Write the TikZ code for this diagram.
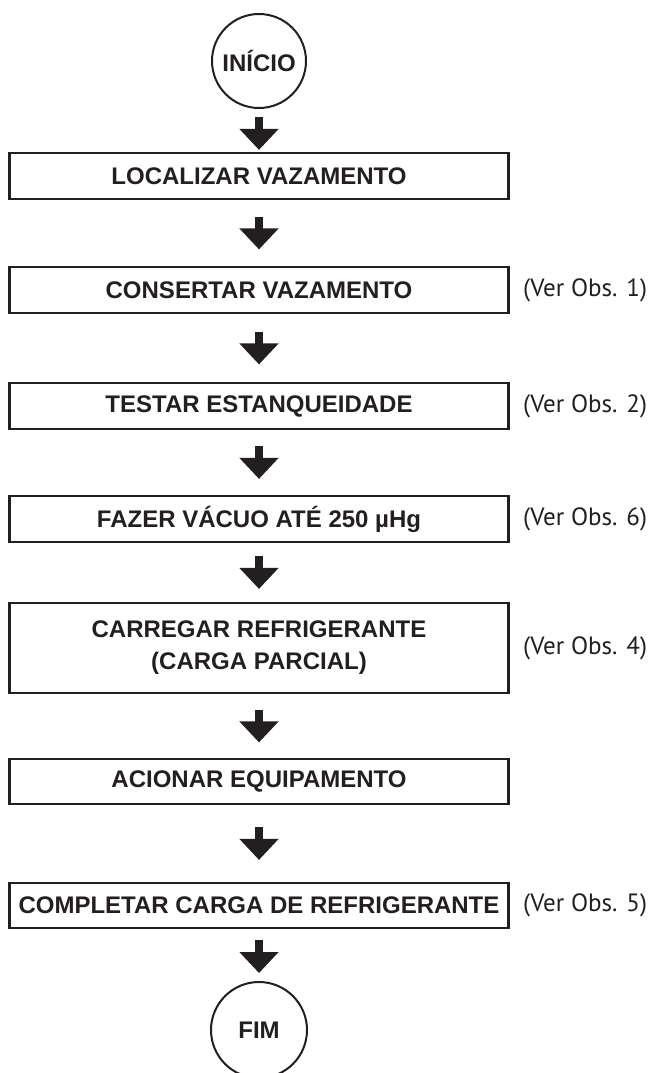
\documentclass[tikz,border=0pt]{standalone}
\usepackage{fontspec}
\setmainfont{Liberation Sans}
\newfontfamily\obsfont{PT Sans}
\usetikzlibrary{arrows.meta}
\definecolor{ink}{HTML}{231F20}
\begin{document}
\begin{tikzpicture}[x=1pt,y=-1pt,
  stepbox/.style={draw=ink, line width=2.2pt, minimum width=499pt, minimum height=46pt,
    inner sep=0pt, text=ink, align=center, font=\bfseries\fontsize{24}{32}\selectfont},
  term/.style={draw=ink, line width=2pt, circle, minimum size=94pt, inner sep=0pt,
    text=ink, font=\bfseries\fontsize{24}{28}\selectfont},
  obs/.style={anchor=west, inner sep=0pt, text=ink, font=\obsfont\fontsize{25}{28}\selectfont},
  flow/.style={draw=ink, line width=8.5pt, -{Triangle[width=38pt,length=21pt]}}
]
\useasboundingbox (0,0) rectangle (653,1073);
\clip (0,0) rectangle (653,1073);

\node[term] (ini) at (259,61) {INÍCIO};
\node[stepbox] (b1) at (259,176) {LOCALIZAR VAZAMENTO};
\node[stepbox] (b2) at (259,290) {CONSERTAR VAZAMENTO};
\node[stepbox] (b3) at (259,406) {TESTAR ESTANQUEIDADE};
\node[stepbox] (b4) at (259,519) {FAZER VÁCUO ATÉ 250 µHg};
\node[stepbox, minimum height=90pt] (b5) at (259,648) {CARREGAR REFRIGERANTE\\(CARGA PARCIAL)};
\node[stepbox, minimum height=45pt] (b6) at (259,781.5) {ACIONAR EQUIPAMENTO};
\node[stepbox, minimum height=45pt] (b7) at (259,905.5) {COMPLETAR CARGA DE REFRIGERANTE};
\node[term, minimum size=96pt] (fim) at (259,1030) {FIM};

\node[obs] (o1) at (523,290) {(Ver Obs. 1)};
\node[obs] (o2) at (523,406) {(Ver Obs. 2)};
\node[obs] (o6) at (523,519) {(Ver Obs. 6)};
\node[obs] (o4) at (523,648) {(Ver Obs. 4)};
\node[obs] (o5) at (523,905.5) {(Ver Obs. 5)};

\draw[flow, shorten <=8pt, shorten >=2pt] (ini.south) -- (b1.north);
\draw[flow, shorten <=16.5pt, shorten >=16.5pt] (b1.south) -- (b2.north);
\draw[flow, shorten <=17.5pt, shorten >=17.5pt] (b2.south) -- (b3.north);
\draw[flow, shorten <=16pt, shorten >=16pt] (b3.south) -- (b4.north);
\draw[flow, shorten <=13pt, shorten >=13pt] (b4.south) -- (b5.north);
\draw[flow, shorten <=15.5pt, shorten >=15.5pt] (b5.south) -- (b6.north);
\draw[flow, shorten <=22pt, shorten >=22pt] (b6.south) -- (b7.north);
\draw[flow, shorten <=11pt, shorten >=8pt] (b7.south) -- (fim.north);
\end{tikzpicture}
\end{document}
